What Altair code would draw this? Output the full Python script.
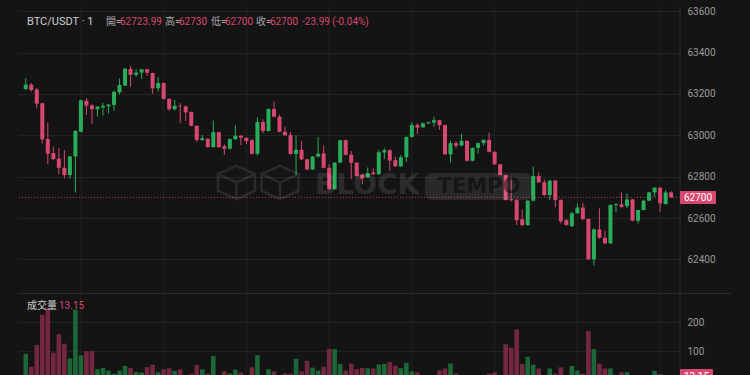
import altair as alt
import pandas as pd

# ---------------- data (1-minute BTC/USDT candles) ----------------
opens = [63224, 63245, 63221, 63155, 62982, 62914, 62887, 62843, 62808, 62898,
         63017, 63167, 63145, 63126, 63135, 63140, 63147, 63208, 63240, 63321,
         63292, 63303, 63319, 63301, 63227, 63253, 63176, 63126, 63143, 63140,
         63113, 63046, 62977, 62983, 62943, 63015, 62947, 62935, 62981, 62998,
         62988, 62976, 62911, 63064, 63021, 63127, 63090, 63017, 63001, 62910,
         62930, 62884, 62835, 62897, 62913, 62843, 62740, 62868, 62976, 62906,
         62868, 62809, 62797, 62820, 62812, 62917, 62928, 62880, 62850, 62894,
         62992, 63050, 63039, 63058, 63061, 63073, 63049, 62908, 62962, 62950,
         62973, 62877, 62939, 62962, 62978, 62920, 62860, 62808, 62690, 62687,
         62594, 62566, 62684, 62803, 62773, 62711, 62781, 62687, 62590, 62561,
         62623, 62651, 62595, 62400, 62545, 62505, 62478, 62663, 62666, 62658,
         62690, 62587, 62639, 62684, 62724, 62747, 62668, 62723.99]
highs = [63276, 63252, 63228, 63158, 63061, 62945, 62938, 62929, 62900, 63025,
         63172, 63180, 63150, 63142, 63157, 63150, 63216, 63274, 63325, 63335,
         63319, 63321, 63321, 63303, 63281, 63255, 63178, 63171, 63155, 63145,
         63115, 63048, 63001, 62986, 63071, 63018, 62956, 62985, 63048, 63000,
         62990, 62983, 63087, 63077, 63130, 63163, 63100, 63042, 63015, 63000,
         62974, 62887, 62900, 62992, 62950, 62860, 62870, 62978, 62979, 62924,
         62870, 62812, 62845, 62840, 62930, 62938, 62932, 62896, 62905, 62995,
         63063, 63058, 63062, 63066, 63090, 63075, 63052, 62974, 62973, 63007,
         62976, 62942, 62965, 62980, 63013, 62923, 62862, 62810, 62800, 62690,
         62642, 62688, 62848, 62820, 62787, 62784, 62784, 62690, 62595, 62631,
         62671, 62674, 62598, 62551, 62647, 62540, 62666, 62670, 62724, 62719,
         62693, 62641, 62688, 62727, 62749, 62750, 62735, 62730]
lows = [63219, 63211, 63130, 62960, 62861, 62880, 62811, 62792, 62792, 62724,
        63014, 63098, 63056, 63090, 63095, 63106, 63119, 63198, 63238, 63235,
        63284, 63272, 63287, 63201, 63211, 63172, 63119, 63119, 63058, 63069,
        63043, 62969, 62973, 62940, 62941, 62938, 62905, 62932, 62978, 62953,
        62958, 62908, 62901, 63010, 63018, 63086, 63015, 62998, 62905, 62808,
        62880, 62832, 62832, 62894, 62840, 62735, 62737, 62865, 62903, 62789,
        62800, 62763, 62794, 62808, 62808, 62885, 62829, 62847, 62847, 62872,
        62990, 63007, 63036, 63055, 63042, 63026, 62905, 62868, 62938, 62948,
        62874, 62874, 62913, 62950, 62917, 62857, 62805, 62685, 62680, 62566,
        62561, 62563, 62680, 62770, 62708, 62687, 62652, 62574, 62563, 62556,
        62620, 62590, 62398, 62372, 62500, 62474, 62474, 62629, 62650, 62647,
        62584, 62574, 62636, 62681, 62703, 62630, 62665, 62700]
closes = [63245, 63219, 63153, 62980, 62911, 62885, 62843, 62808, 62898, 63021,
          63169, 63143, 63126, 63138, 63142, 63148, 63210, 63243, 63322, 63292,
          63303, 63319, 63303, 63227, 63253, 63176, 63126, 63143, 63140, 63111,
          63046, 62977, 62986, 62943, 63015, 62943, 62935, 62982, 62998, 62988,
          62972, 62911, 63064, 63021, 63127, 63090, 63017, 63000, 62910, 62930,
          62884, 62835, 62897, 62911, 62843, 62740, 62868, 62976, 62906, 62868,
          62803, 62792, 62816, 62812, 62918, 62928, 62878, 62850, 62894, 62992,
          63050, 63037, 63058, 63063, 63073, 63049, 62908, 62962, 62950, 62973,
          62877, 62939, 62962, 62978, 62920, 62860, 62808, 62687, 62686, 62590,
          62566, 62684, 62803, 62773, 62711, 62781, 62687, 62585, 62566, 62623,
          62651, 62595, 62400, 62545, 62505, 62478, 62663, 62668, 62654, 62690,
          62587, 62639, 62684, 62724, 62747, 62671, 62724, 62700]
volumes = [91, 46, 121, 226, 250, 95, 159, 126, 75, 244,
           86, 100, 100, 38, 42, 33, 22, 33, 49, 42,
           28, 26, 45, 53, 27, 37, 41, 32, 37, 15,
           22, 52, 37, 22, 83, 12, 30, 22, 36, 26,
           14, 44, 86, 12, 38, 30, 15, 23, 22, 74,
           30, 67, 43, 33, 46, 108, 107, 56, 33, 57,
           38, 42, 41, 40, 54, 56, 62, 50, 41, 60,
           30, 27, 12, 12, 14, 33, 40, 57, 22, 15,
           15, 14, 12, 15, 22, 27, 16, 124, 112, 175,
           56, 81, 53, 40, 14, 40, 22, 44, 15, 49,
           33, 22, 170, 107, 57, 40, 40, 15, 27, 27,
           15, 14, 16, 16, 32, 21, 15, 13.15]

time_grid = [10, 25, 40, 55, 70, 85, 100, 115]          # 15-minute grid positions (candle index)
price_ticks = [62400, 62600, 62800, 63000, 63200, 63400, 63600]
volume_ticks = [100, 200]

header_title = "BTC/USDT · 1"
header_names = ["開=", "高=", "低=", "收="]
header_values = ["62723.99", "62730", "62700", "62700"]
change_text = "-23.99 (-0.04%)"
volume_title = "成交量"
last_volume_text = "13.15"
last_price_text = "62700"

# ---------------- styles ----------------
BG = "#141414"
GRID = "#232323"
UP, DOWN = "#2aad5a", "#d8476f"
VOL_UP, VOL_DOWN = "#1d6638", "#74283f"
AXIS_TXT = "#9a9a9a"
FONT = "Roboto, 'Noto Sans CJK TC', sans-serif"

n = len(opens)
df = pd.DataFrame({"i": list(range(n)), "open": opens, "high": highs, "low": lows,
                   "close": closes, "volume": volumes})
df["col"] = [UP if c >= o else DOWN for o, c in zip(opens, closes)]
df["vcol"] = [VOL_UP if c >= o else VOL_DOWN for o, c in zip(opens, closes)]
grid_df = pd.DataFrame({"g": time_grid})
one = pd.DataFrame({"k": [0]})

xscale = alt.Scale(domain=[-0.5, n - 0.3], nice=False, zero=False)
x_enc = alt.X("i:Q", scale=xscale, axis=None)
price_scale = alt.Scale(domain=[61841.5, 63625], nice=False, zero=False)
vol_scale = alt.Scale(domain=[17.6, 1294.5], nice=False, zero=False)

price_axis = alt.Axis(orient="right", values=price_ticks, grid=True, gridColor=GRID,
                      ticks=False, domain=False, labelColor=AXIS_TXT, labelFontSize=10,
                      labelFont=FONT, labelPadding=7, format="d", title=None)
vol_axis = alt.Axis(orient="right", values=volume_ticks, grid=True, gridColor=GRID,
                    ticks=False, domain=False, labelColor=AXIS_TXT, labelFontSize=10,
                    labelFont=FONT, labelPadding=7, format="d", title=None)

base = alt.Chart(df)

vgrid = alt.Chart(grid_df).mark_rule(color=GRID, strokeWidth=1).encode(
    x=alt.X("g:Q", scale=xscale, axis=None))

wicks = base.mark_rule(strokeWidth=1).encode(
    x=x_enc,
    y=alt.Y("low:Q", scale=price_scale, axis=price_axis),
    y2="high:Q",
    color=alt.Color("col:N", scale=None))
bodies = base.mark_bar(size=4).encode(
    x=x_enc,
    y=alt.Y("open:Q", scale=price_scale, axis=price_axis),
    y2="close:Q",
    color=alt.Color("col:N", scale=None))
last_line = alt.Chart(df.tail(1)).mark_rule(color=DOWN, strokeDash=[1, 2], opacity=0.8).encode(
    y=alt.Y("close:Q", scale=price_scale, axis=price_axis))
price_layer = alt.layer(wicks, bodies, last_line)

vol_bars = base.mark_bar(size=4.6, clip=True).encode(
    x=x_enc,
    y=alt.Y("volume:Q", scale=vol_scale, axis=vol_axis),
    y2=alt.datum(0),
    color=alt.Color("vcol:N", scale=None))


def txt(text, x, y, color, size=10, align="left", weight="normal", font=FONT, opacity=1.0):
    return alt.Chart(one).mark_text(align=align, baseline="middle", fontSize=size,
                                    font=font, fontWeight=weight, color=color,
                                    opacity=opacity).encode(
        x=alt.value(x), y=alt.value(y), text=alt.value(text))


def line(x, x2, y, y2, color):
    return alt.Chart(one).mark_rule(color=color, strokeWidth=1).encode(
        x=alt.value(x), x2=alt.value(x2), y=alt.value(y), y2=alt.value(y2))


# watermark
cube = ("M0,-0.9 L1,-0.45 L1,0.45 L0,0.9 L-1,0.45 L-1,-0.45 Z "
        "M-1,-0.45 L0,0 L1,-0.45 M0,0 L0,0.9")
icons = [alt.Chart(one).mark_point(shape=cube, filled=False, size=1369, strokeWidth=2.5,
                                   color="#ffffff", opacity=0.09).encode(
    x=alt.value(px), y=alt.value(176.5)) for px in (218.5, 262)]
block_txt = txt("BLOCK", 297, 180, "#ffffff", size=28, weight="bold",
                font="DejaVu Sans", opacity=0.1)
tempo_box = alt.Chart(one).mark_rect(cornerRadius=7, color="#ffffff", opacity=0.09).encode(
    x=alt.value(407), x2=alt.value(514), y=alt.value(167), y2=alt.value(194))
tempo_txt = txt("TEMPO", 461, 180.5, "#000000", size=21, align="center", weight="bold",
                font="DejaVu Sans", opacity=0.45)

# header legend
header = [txt(header_title, 9, 16, "#cfcfcf", size=11)]
name_x = [88, 147, 193, 238]
val_x = [102, 161, 207, 252]
for nm, vl, nx, vx in zip(header_names, header_values, name_x, val_x):
    header.append(txt(nm, nx, 16, "#a8a8a8", size=10))
    header.append(txt(vl, vx, 16, DOWN, size=10))
header.append(txt(change_text, 284, 16, DOWN, size=10))
header.append(txt(volume_title, 9, 299.5, "#cfcfcf", size=10))
header.append(txt(last_volume_text, 41, 299.5, DOWN, size=10))

# price / volume tags on the right axis
price_tag = alt.Chart(one).mark_rect(color=DOWN, cornerRadius=1).encode(
    x=alt.value(662), x2=alt.value(698), y=alt.value(185), y2=alt.value(198))
price_tag_txt = txt(last_price_text, 680, 191.5, "#ffffff", size=10, align="center")
vol_tag = alt.Chart(one).mark_rect(color=DOWN, cornerRadius=1).encode(
    x=alt.value(662), x2=alt.value(695), y=alt.value(363), y2=alt.value(378))
vol_tag_txt = txt(last_volume_text, 678.5, 370.5, "#ffffff", size=10, align="center")

separator = line(0, 713, 287.5, 287.5, "#2a2a2a")
right_border = line(662, 662, 0, 369, "#2a2c34")

chart = alt.layer(
    vgrid, vol_bars, price_layer, *icons, block_txt, tempo_box, tempo_txt,
    separator, right_border, *header, price_tag, price_tag_txt, vol_tag, vol_tag_txt
).resolve_scale(y="independent").properties(
    width=662, height=369,
    autosize=alt.AutoSizeParams(type="none"),
    padding={"left": 18, "top": 6, "right": 70, "bottom": 0},
    background=BG,
).configure_view(stroke=None)

chart.save("out.html", embed_options={"renderer": "svg", "actions": False})
